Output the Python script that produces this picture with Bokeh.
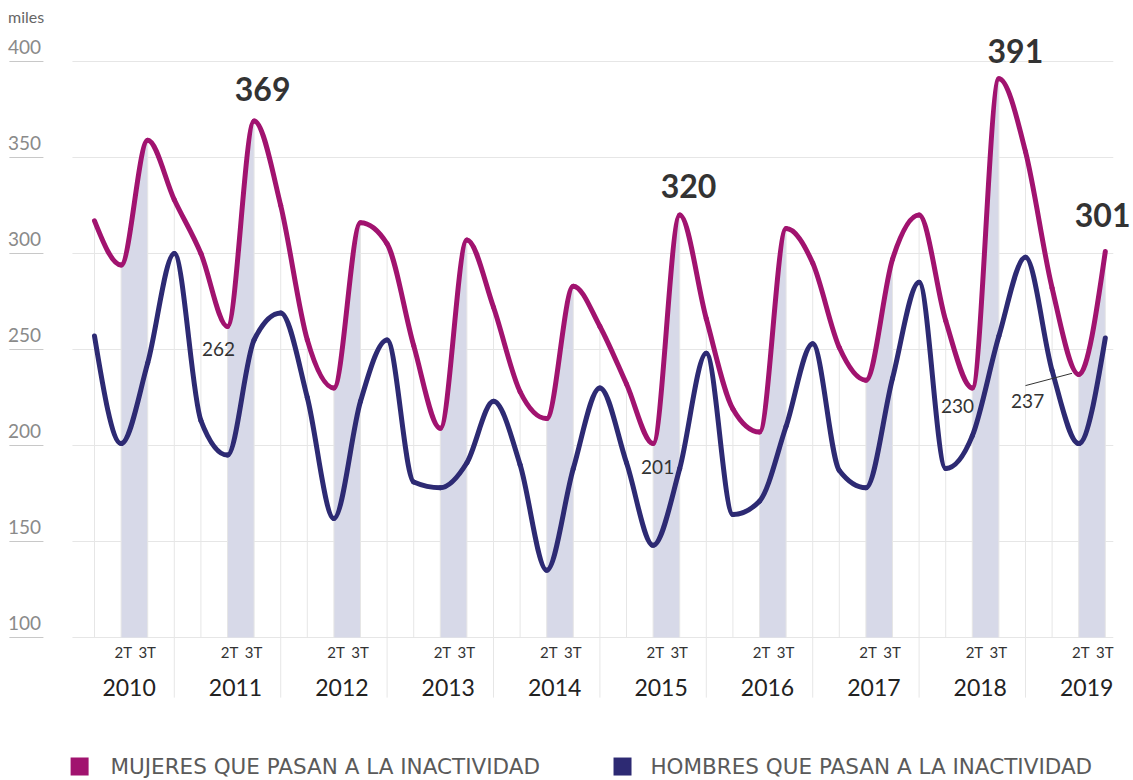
import numpy as np
from bokeh.plotting import figure
from bokeh.models import Range1d
from bokeh.core.properties import value
from bokeh.embed import file_html
from bokeh.resources import INLINE

# ---------------- data ----------------
years = ["2010", "2011", "2012", "2013", "2014", "2015", "2016", "2017", "2018", "2019"]
quarter_labels = ["1T", "2T", "3T", "4T"]
# miles de personas, trimestral 2010-1T ... 2019-3T
mujeres = [317, 294, 359, 328,
           300, 262, 369, 325,
           255, 230, 316, 305,
           252, 209, 307, 272,
           228, 214, 283, 262,
           232, 201, 320, 266,
           219, 207, 313, 295,
           251, 234, 297, 320,
           265, 230, 391, 353,
           282, 237, 301]
hombres = [257, 201, 243, 300,
           213, 195, 255, 269,
           225, 162, 223, 255,
           181, 178, 191, 223,
           190, 135, 188, 230,
           191, 148, 188, 248,
           164, 171, 210, 253,
           187, 178, 235, 285,
           188, 205, 257, 298,
           239, 201, 256]
y_ticks = [100, 150, 200, 250, 300, 350, 400]
big_labels_idx = [6, 22, 34, 38]          # highlighted peaks (mujeres)
small_labels_idx = [5, 21, 33, 37]        # highlighted troughs (mujeres)
legend_names = ["MUJERES QUE PASAN A LA INACTIVIDAD", "HOMBRES QUE PASAN A LA INACTIVIDAD"]

PINK = "#a1136f"
NAVY = "#2d2a73"
SHADE = "#d7d9e8"
GRID = "#e6e6e6"
FONT = "Lato"

n = len(mujeres)
xs = np.arange(n, dtype=float)

p = figure(width=1133, height=780, output_backend="svg", toolbar_location=None,
           x_range=Range1d(-3.534, 39.06), y_range=Range1d(25.52, 431.77),
           min_border=0, outline_line_color=None)
p.axis.visible = False
p.grid.visible = False
p.background_fill_color = "white"
p.border_fill_color = "white"


def monotone_tangents(y):
    y = np.asarray(y, dtype=float)
    s = np.diff(y)
    t = np.zeros_like(y)
    for k in range(1, len(y) - 1):
        s0, s1 = s[k - 1], s[k]
        pp = (s0 + s1) / 2.0
        t[k] = (np.sign(s0) + np.sign(s1)) * min(abs(s0), abs(s1), 0.5 * abs(pp))
    t[0] = (3 * s[0] - t[1]) / 2.0
    t[-1] = (3 * s[-1] - t[-2]) / 2.0
    return t


def bezier_parts(y):
    y = np.asarray(y, dtype=float)
    t = monotone_tangents(y)
    x0 = xs[:-1]
    x1 = xs[1:]
    return dict(x0=x0, y0=y[:-1], x1=x1, y1=y[1:],
                cx0=x0 + 1 / 3, cy0=y[:-1] + t[:-1] / 3,
                cx1=x1 - 1 / 3, cy1=y[1:] - t[1:] / 3)


bm = bezier_parts(mujeres)
bh = bezier_parts(hombres)

# horizontal grid lines + tick labels
p.segment(x0=-0.83, y0=y_ticks, x1=38.3, y1=y_ticks, line_color=GRID, line_width=1)
p.segment(x0=-3.2, y0=y_ticks, x1=-1.92, y1=y_ticks, line_color="#c8c8c8", line_width=1)
p.text(x=[-3.25] * len(y_ticks), y=[v + 7.3 for v in y_ticks], text=[str(v) for v in y_ticks],
       text_font=value(FONT), text_font_size=value("19px"), text_color="#8a8a8a",
       text_baseline="middle", text_align="left")
p.text(x=[-3.25], y=[423.4], text=["miles"], text_font=value(FONT),
       text_font_size=value("16px"), text_color="#666666", text_baseline="middle")

# shaded 2T-3T bands, under the women's curve
for k in range(1, n - 1, 4):
    tt = np.linspace(0, 1, 30)
    a = (1 - tt) ** 3
    b = 3 * (1 - tt) ** 2 * tt
    c = 3 * (1 - tt) * tt ** 2
    d = tt ** 3
    bx = a * bm["x0"][k] + b * bm["cx0"][k] + c * bm["cx1"][k] + d * bm["x1"][k]
    by = a * bm["y0"][k] + b * bm["cy0"][k] + c * bm["cy1"][k] + d * bm["y1"][k]
    p.varea(x=bx, y1=np.full_like(by, 100.0), y2=by, fill_color=SHADE)

# quarter vertical lines up to the women's curve
p.segment(x0=xs, y0=[100] * n, x1=xs, y1=mujeres, line_color=GRID, line_width=1)
# year separators (below the axis)
sep = [4 * j + 3 for j in range(len(years) - 1)]
p.segment(x0=sep, y0=[100] * len(sep), x1=sep, y1=[68.7] * len(sep), line_color=GRID, line_width=1)

# curves
p.bezier(line_color=NAVY, line_width=5, line_cap="round", line_join="round", **bh)
p.bezier(line_color=PINK, line_width=5, line_cap="round", line_join="round", **bm)

# quarter labels (2T 3T) and years
q_x, q_t = [], []
for j in range(len(years)):
    for q in (1, 2):
        idx = 4 * j + q
        if idx < n:
            q_x.append(idx + (0.08 if q == 1 else -0.02))
            q_t.append(quarter_labels[q])
p.text(x=q_x, y=[92.2] * len(q_x), text=q_t, text_font=value(FONT), text_font_size=value("15px"),
       text_color="#333333", text_align="center", text_baseline="middle")
p.text(x=[4 * j + 1.3 for j in range(len(years))], y=[74] * len(years), text=years,
       text_font=value(FONT), text_font_size=value("23px"), text_color="#222222",
       text_align="center", text_baseline="middle")

# highlighted values
big_dx = [0.32, 0.33, 0.62, -0.1]
big_dy = [16.9, 15.4, 14.7, 19.3]
p.text(x=[big_labels_idx[i] + big_dx[i] for i in range(4)],
       y=[mujeres[big_labels_idx[i]] + big_dy[i] for i in range(4)],
       text=[str(mujeres[i]) for i in big_labels_idx], text_font=value(FONT),
       text_font_size=value("32px"), text_font_style="bold", text_color="#333333",
       text_align="center", text_baseline="middle")
small_dx = [-0.34, 0.17, -0.56, -1.92]
small_dy = [-12.0, -12.0, -9.2, -13.6]
p.text(x=[small_labels_idx[i] + small_dx[i] for i in range(4)],
       y=[mujeres[small_labels_idx[i]] + small_dy[i] for i in range(4)],
       text=[str(mujeres[i]) for i in small_labels_idx], text_font=value(FONT),
       text_font_size=value("19px"), text_color="#333333",
       text_align="center", text_baseline="middle")
k237 = small_labels_idx[3]
p.segment(x0=[k237 - 2.0], y0=[mujeres[k237] - 5.8], x1=[k237 - 0.25], y1=[mujeres[k237] + 0.6],
          line_color="#333333", line_width=1)

# legend
p.rect(x=[-0.56, 19.85], y=[32.8, 32.8], width=18, height=18, width_units="screen",
       height_units="screen", fill_color=[PINK, NAVY], line_color=None)
p.text(x=[0.6, 20.9], y=[32.8, 32.8], text=legend_names, text_font=value("DejaVu Sans"),
       text_font_size=value("21.5px"), text_color="#5a5a5a", text_baseline="middle")

open("out.html", "w").write(file_html(p, INLINE))
